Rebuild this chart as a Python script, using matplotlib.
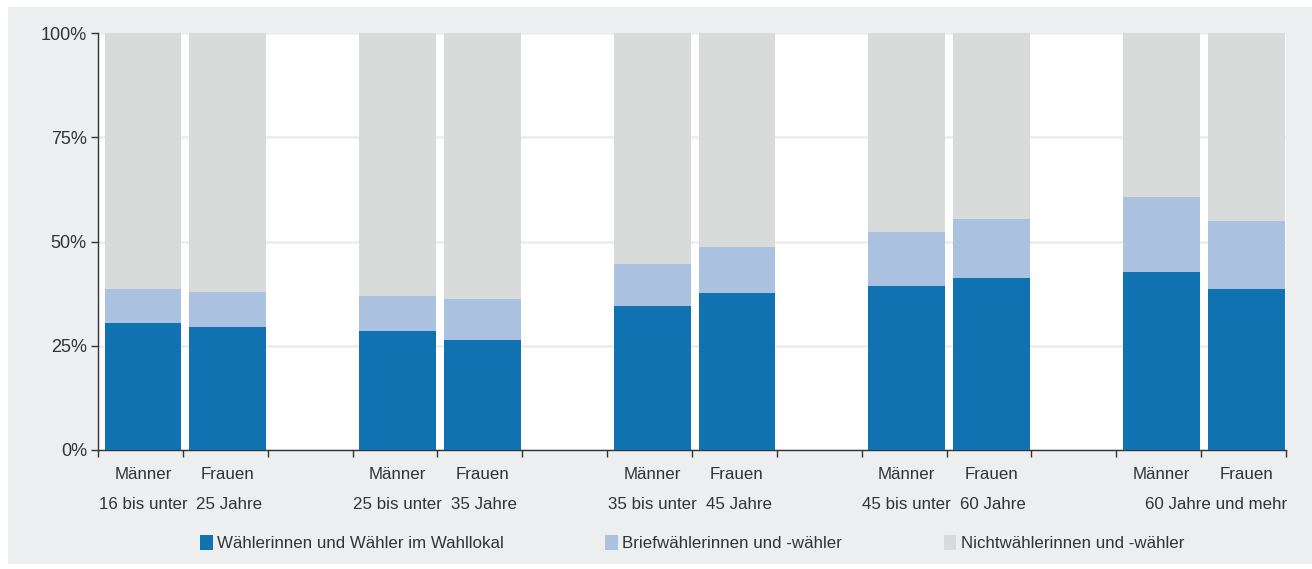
import numpy as np
import matplotlib.pyplot as plt
from matplotlib.patches import Rectangle, Patch

plt.rcParams['font.family'] = ['Liberation Sans', 'DejaVu Sans']

# Daten (Anteile in %)
geschlecht = ["Männer", "Frauen"]
altersgruppen = [("16 bis unter", "25 Jahre"),
                 ("25 bis unter", "35 Jahre"),
                 ("35 bis unter", "45 Jahre"),
                 ("45 bis unter", "60 Jahre"),
                 ("60 Jahre und mehr", None)]
# je Altersgruppe: Männer, Frauen
wahllokal = [30.5, 29.6, 28.6, 26.4, 34.6, 37.7, 39.4, 41.3, 42.8, 38.5]
briefwahl = [8.2, 8.4, 8.4, 9.9, 9.9, 11.1, 12.8, 14.0, 17.8, 16.3]
serien = ["Wählerinnen und Wähler im Wahllokal",
          "Briefwählerinnen und -wähler",
          "Nichtwählerinnen und -wähler"]

farben = ["#1172b1", "#abc1e0", "#d9dbdb"]
textfarbe = "#333333"
fs = 12.2

wahllokal = np.array(wahllokal)
briefwahl = np.array(briefwahl)
nicht = 100 - wahllokal - briefwahl

# Positionen: je Gruppe zwei Balken und ein leerer Platz
pos = []
for g in range(len(altersgruppen)):
    pos += [3 * g, 3 * g + 1]
pos = np.array(pos) + 0.03

fig = plt.figure(figsize=(13.12, 5.69), dpi=100)
fig.patch.set_facecolor("white")
fig.patches.append(Rectangle((8 / 1312, 5 / 569), 1 - 8 / 1312, 1 - 12 / 569,
                             transform=fig.transFigure, facecolor="#edeef0",
                             edgecolor="none", zorder=-10))

ax = fig.add_axes([98 / 1312, 1 - 450 / 569, 1188 / 1312, 417 / 569])
ax.set_facecolor("white")

b = 0.905
ax.bar(pos, wahllokal, b, color=farben[0], zorder=3)
ax.bar(pos, briefwahl, b, bottom=wahllokal, color=farben[1], zorder=3)
ax.bar(pos, nicht, b, bottom=wahllokal + briefwahl, color=farben[2], zorder=3)

ax.set_xlim(-0.5, 13.5)
ax.set_ylim(0, 100)
ax.set_yticks([0, 25, 50, 75, 100])
ax.set_yticklabels(["0%", "25%", "50%", "75%", "100%"])
ax.set_xticks(np.arange(-0.5, 13.6, 1))
ax.set_xticklabels([])
ax.grid(axis="y", color="#eeeeee", linewidth=2, zorder=0)

for s in ["top", "right"]:
    ax.spines[s].set_visible(False)
for s in ["left", "bottom"]:
    ax.spines[s].set_color(textfarbe)
    ax.spines[s].set_linewidth(1)
ax.tick_params(axis="both", colors=textfarbe, length=5, width=1,
               labelsize=13, direction="out")
ax.tick_params(axis="y", pad=3)

trans = ax.get_xaxis_transform()
for g, (a, b2) in enumerate(altersgruppen):
    for k, name in enumerate(geschlecht):
        ax.text(3 * g + k + 0.03, -0.058, name, transform=trans, ha="center",
                va="center", fontsize=fs, color=textfarbe)
    if b2 is None:
        ax.text(3 * g + 1.51, -0.13, a, transform=trans, ha="right",
                va="center", fontsize=fs, color=textfarbe)
    else:
        ax.text(3 * g + 0.03, -0.13, a, transform=trans, ha="center",
                va="center", fontsize=fs, color=textfarbe)
        ax.text(3 * g + 1.05, -0.13, b2, transform=trans, ha="center",
                va="center", fontsize=fs, color=textfarbe)

handles = [Patch(facecolor=c, edgecolor="none") for c in farben]
leg = ax.legend(handles, serien, loc="center", bbox_to_anchor=(0.5, -0.223),
                ncol=3, frameon=False, fontsize=fs, handlelength=0.75,
                handleheight=0.95, handletextpad=0.25, columnspacing=6.0)
for t in leg.get_texts():
    t.set_color(textfarbe)

plt.savefig("out.png", dpi=100, facecolor=fig.get_facecolor())
